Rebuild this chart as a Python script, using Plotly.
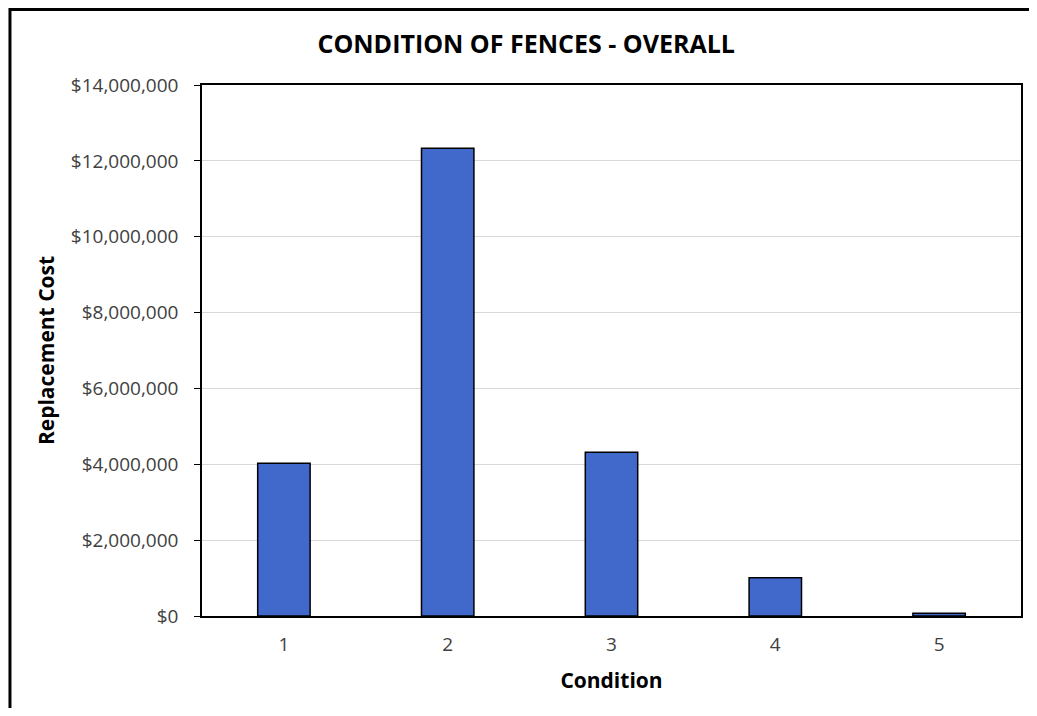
import plotly.graph_objects as go

conditions = ["1", "2", "3", "4", "5"]
replacement_cost = [4030000, 12330000, 4320000, 1010000, 70000]

fig = go.Figure()
fig.add_trace(go.Bar(
    x=conditions,
    y=replacement_cost,
    width=0.32,
    marker=dict(color="#4169CC", line=dict(color="#000000", width=1.5)),
))

# page body has an 8px margin: work in reference pixels, shift by OFF
OFF = 8
W, H = 1037 - 2 * OFF, 716 - 2 * OFF
L = 202 - OFF
T = 85 - OFF
R = W - (1023 - OFF)
B = H - (616 - OFF)
pw = W - L - R
ph = H - T - B

def px2x(px):
    return (px - OFF - L) / pw

def px2y(py):
    return (H - B - (py - OFF)) / ph

fig.update_layout(
    width=W, height=H,
    margin=dict(l=L, r=R, t=T, b=B),
    paper_bgcolor="white",
    plot_bgcolor="white",
    showlegend=False,
    font=dict(family="Open Sans", color="#404040", size=19),
    title=dict(
        text="<b>CONDITION OF FENCES - OVERALL</b>",
        x=px2x(527), xref="paper", xanchor="center",
        y=1 - (44 - OFF) / H, yref="container", yanchor="middle",
        font=dict(family="Open Sans", size=25, color="#000000"),
    ),
    xaxis=dict(
        type="category",
        showline=True, linecolor="#000000", linewidth=1.5, mirror=True,
        showgrid=False, ticks="",
        ticklabelstandoff=10,
        tickfont=dict(size=19, color="#404040"),
        title=dict(text="<b>Condition</b>", font=dict(size=21, color="#000000"), standoff=18),
    ),
    yaxis=dict(
        range=[0, 14000000], dtick=2000000,
        tickprefix="$", tickformat=",",
        showline=True, linecolor="#000000", linewidth=1.5, mirror=True,
        showgrid=True, gridcolor="#d9d9d9", gridwidth=1,
        ticks="outside", ticklen=6, tickcolor="#000000",
        ticklabelstandoff=12,
        tickfont=dict(size=19, color="#404040"),
        title=dict(text="<b>Replacement Cost</b>", font=dict(size=21, color="#000000"), standoff=10),
        zeroline=False,
    ),
    shapes=[dict(
        type="rect", xref="paper", yref="paper",
        x0=px2x(9.5), x1=px2x(1045), y0=px2y(725), y1=px2y(9.5),
        line=dict(color="#000000", width=3), fillcolor="rgba(0,0,0,0)", layer="below",
    )],
)

fig.write_html("out.html")
